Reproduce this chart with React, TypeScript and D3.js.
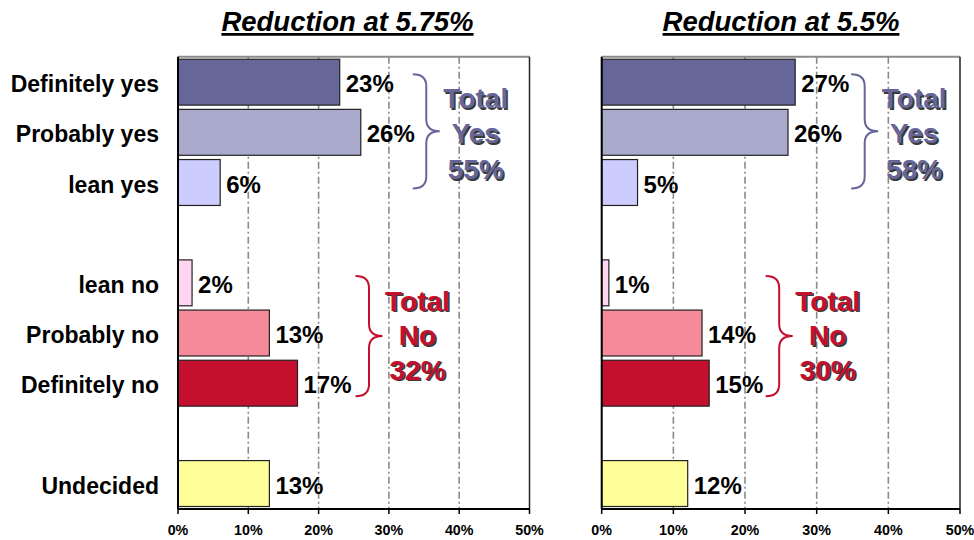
import React from "react";
import * as d3 from "d3";

// ---- data ----
const categories = [
  "Definitely yes",
  "Probably yes",
  "lean yes",
  "lean no",
  "Probably no",
  "Definitely no",
  "Undecided",
];
const groups = ["yes", "yes", "yes", "no", "no", "no", "undecided"];
const barColors = ["#666699", "#AAAACC", "#CCCCFF", "#FFD6F2", "#F48A9A", "#C4102E", "#FFFF99"];

const panelTitles = ["Reduction at 5.75%", "Reduction at 5.5%"];
const reduction575 = [23, 26, 6, 2, 13, 17, 13];
const reduction55 = [27, 26, 5, 1, 14, 15, 12];
const panelValues = [reduction575, reduction55];
const totalYes = [55, 58];
const totalNo = [32, 30];
const xTicks = [0, 10, 20, 30, 40, 50];

// ---- layout ----
const W = 974;
const H = 540;
const plotTop = 56.7;
const plotBottom = 509;
const panels = [
  { x0: 178, x1: 529.5, titleX: 347.5, yesGap: 52, noGap: 58 },
  { x0: 601.7, x1: 960, titleX: 781, yesGap: 56, noGap: 56.5 },
];
const FONT = "'Liberation Sans', Arial, Helvetica, sans-serif";
const YES_COLOR = "#666699";
const NO_COLOR = "#C4102E";

// band domain with spacer slots between groups
const slots: string[] = [];
categories.forEach((c, i) => {
  if (i > 0 && groups[i] !== groups[i - 1]) slots.push("__gap" + i);
  slots.push(c);
});

const y = d3
  .scaleBand<string>()
  .domain(slots)
  .range([plotTop, plotBottom])
  .paddingInner(0.085)
  .paddingOuter(0.05);

function bracePath(x0: number, yTop: number, yBot: number) {
  const x1 = x0 + 13.5;
  const x2 = x1 + 13.5;
  const ym = (yTop + yBot) / 2;
  const r = 12;
  return [
    `M${x0},${yTop}`,
    `Q${x1},${yTop} ${x1},${yTop + r}`,
    `L${x1},${ym - r}`,
    `Q${x1},${ym} ${x2},${ym}`,
    `Q${x1},${ym} ${x1},${ym + r}`,
    `L${x1},${yBot - r}`,
    `Q${x1},${yBot} ${x0},${yBot}`,
  ].join(" ");
}

function TotalLabel({
  cx,
  midY,
  lines,
  color,
  lineGap,
  shift,
}: {
  cx: number;
  midY: number;
  lines: string[];
  color: string;
  lineGap: number;
  shift: number;
}) {
  const base = midY + shift;
  return (
    <g fontFamily={FONT} fontWeight="bold" fontSize={28} textAnchor="middle">
      {lines.map((t, i) => (
        <g key={i}>
          <text x={cx + 1.7} y={base + (i - 1) * lineGap + 1.7} fill="#3a3a3a">
            {t}
          </text>
          <text x={cx} y={base + (i - 1) * lineGap} fill={color}>
            {t}
          </text>
        </g>
      ))}
    </g>
  );
}

function Panel({ idx }: { idx: number }) {
  const p = panels[idx];
  const values = panelValues[idx];
  const x = d3.scaleLinear().domain([0, 50]).range([p.x0, p.x1]);
  const bw = y.bandwidth();

  const groupInfo = (g: string) => {
    const ids = categories.map((c, i) => i).filter((i) => groups[i] === g);
    const top = y(categories[ids[0]])!;
    const bot = y(categories[ids[ids.length - 1]])! + bw;
    const maxV = d3.max(ids, (i) => values[i])!;
    return { top, bot, maxV };
  };
  const yes = groupInfo("yes");
  const no = groupInfo("no");
  const yesX0 = x(yes.maxV) + p.yesGap;
  const noX0 = x(no.maxV) + p.noGap;
  const yesTop = yes.top + 15;
  const yesBot = yes.bot - 17;
  const noTop = no.top + 16;
  const noBot = no.bot - 10;

  return (
    <g>
      {/* title */}
      <text
        x={p.titleX}
        y={31}
        textAnchor="middle"
        fontFamily={FONT}
        fontWeight="bold"
        fontStyle="italic"
        fontSize={27.5}
        fill="#000"
        style={{ textDecoration: "underline" }}
      >
        {panelTitles[idx]}
      </text>

      {/* gridlines */}
      {xTicks
        .filter((t) => t > 0 && t < 50)
        .map((t) => (
          <line
            key={t}
            x1={x(t)}
            x2={x(t)}
            y1={plotTop}
            y2={plotBottom}
            stroke="#8a8a8a"
            strokeWidth={1.6}
            strokeDasharray="7 3 2 3"
          />
        ))}

      {/* frame */}
      <line x1={p.x0} x2={p.x1} y1={plotTop} y2={plotTop} stroke="#8a8a8a" strokeWidth={2} />
      <line x1={p.x1} x2={p.x1} y1={plotTop} y2={plotBottom} stroke="#222" strokeWidth={1.5} />

      {/* bars */}
      {categories.map((c, i) => (
        <rect
          key={c}
          x={x(0)}
          y={y(c)!}
          width={x(values[i]) - x(0)}
          height={bw}
          fill={barColors[i]}
          stroke="#222"
          strokeWidth={1.2}
        />
      ))}

      {/* axes lines */}
      <line x1={p.x0} x2={p.x0} y1={plotTop} y2={plotBottom} stroke="#000" strokeWidth={2} />
      <line x1={p.x0} x2={p.x1} y1={plotBottom} y2={plotBottom} stroke="#000" strokeWidth={2} />
      {xTicks.map((t) => (
        <g key={t}>
          <line x1={x(t)} x2={x(t)} y1={plotBottom} y2={plotBottom + 5} stroke="#000" strokeWidth={1.5} />
          <text
            x={x(t)}
            y={535}
            textAnchor="middle"
            fontFamily={FONT}
            fontWeight="bold"
            fontSize={14.3}
            fill="#000"
          >
            {t}%
          </text>
        </g>
      ))}

      {/* value labels */}
      {categories.map((c, i) => (
        <text
          key={c}
          x={x(values[i]) + 6}
          y={y(c)! + bw / 2 + 10}
          fontFamily={FONT}
          fontWeight="bold"
          fontSize={24}
          fill="#000"
        >
          {values[i]}%
        </text>
      ))}

      {/* category labels (left panel only) */}
      {idx === 0 &&
        categories.map((c) => (
          <text
            key={c}
            x={159}
            y={y(c)! + bw / 2 + 10}
            textAnchor="end"
            fontFamily={FONT}
            fontWeight="bold"
            fontSize={23}
            fill="#000"
          >
            {c}
          </text>
        ))}

      {/* braces */}
      <path d={bracePath(yesX0, yesTop, yesBot)} fill="none" stroke={YES_COLOR} strokeWidth={2} />
      <path d={bracePath(noX0, noTop, noBot)} fill="none" stroke={NO_COLOR} strokeWidth={2} />

      <TotalLabel
        cx={yesX0 + 63}
        midY={(yesTop + yesBot) / 2}
        lines={["Total", "Yes", `${totalYes[idx]}%`]}
        color={YES_COLOR}
        lineGap={35.5}
        shift={12}
      />
      <TotalLabel
        cx={noX0 + 62}
        midY={(noTop + noBot) / 2}
        lines={["Total", "No", `${totalNo[idx]}%`]}
        color={NO_COLOR}
        lineGap={34.5}
        shift={9}
      />
    </g>
  );
}

export default function App() {
  return (
    <svg
      width={W}
      height={H}
      viewBox={`0 0 ${W} ${H}`}
      style={{ position: "absolute", left: 0, top: 0, background: "#fff" }}
    >
      <rect x={0} y={0} width={W} height={H} fill="#fff" />
      <Panel idx={0} />
      <Panel idx={1} />
    </svg>
  );
}
